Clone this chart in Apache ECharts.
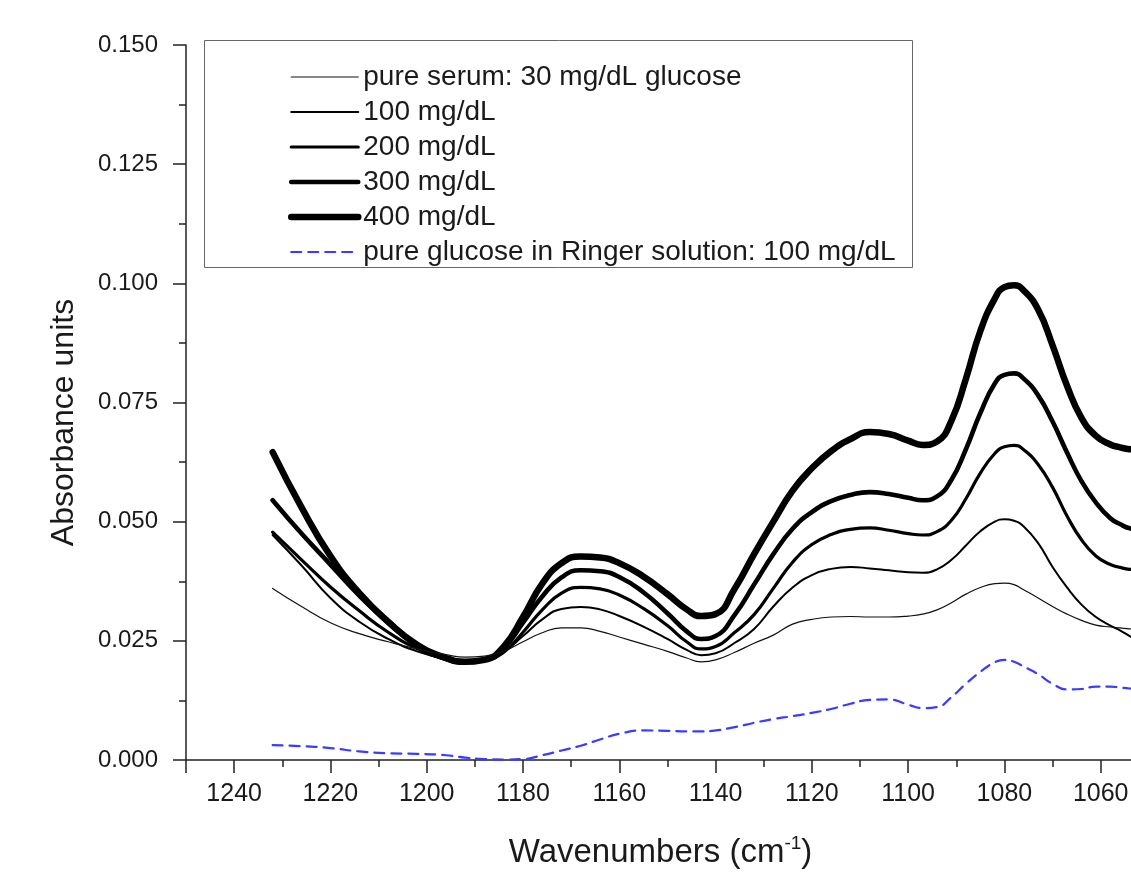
<!DOCTYPE html>
<html>
<head>
<meta charset="utf-8">
<script src="https://cdn.jsdelivr.net/npm/echarts@6/dist/echarts.min.js"></script>
<style>
html,body{margin:0;padding:0;background:#fff;}
#chart{width:1131px;height:873px;}
</style>
</head>
<body>
<div id="chart"></div>
<script>
// Wavenumbers (cm^-1)
const wn = [1232,1226,1220,1214,1208,1202,1196,1192,1188,1184,1180,1176,1172,1168,1164,1160,1155,1150,1146,1143,1140,1136,1132,1128,1124,1120,1116,1112,1108,1104,1100,1097,1094,1091,1088,1085,1082,1080,1078,1076,1073,1070,1067,1064,1061,1058,1056,1054,1050];

const serum30 = [0.0360,0.0322,0.0288,0.0265,0.0248,0.0233,0.0221,0.0216,0.0218,0.0228,0.0248,0.0267,0.0277,0.0277,0.0270,0.0258,0.0243,0.0228,0.0214,0.0206,0.0210,0.0226,0.0245,0.0262,0.0285,0.0295,0.0300,0.0301,0.0300,0.0300,0.0302,0.0306,0.0315,0.0330,0.0348,0.0362,0.0370,0.0371,0.0368,0.0357,0.0340,0.0322,0.0306,0.0293,0.0283,0.0279,0.0277,0.0275,0.0274];

const glu100 = [0.0472,0.0408,0.0340,0.0290,0.0254,0.0228,0.0212,0.0206,0.0211,0.0228,0.0260,0.0295,0.0317,0.0321,0.0316,0.0302,0.0280,0.0254,0.0231,0.0220,0.0224,0.0246,0.0275,0.0322,0.0362,0.0388,0.0401,0.0405,0.0402,0.0398,0.0394,0.0393,0.0400,0.0420,0.0450,0.0480,0.0500,0.0505,0.0502,0.0490,0.0455,0.0405,0.0362,0.0326,0.0300,0.0282,0.0272,0.0260,0.0236];

const glu200 = [0.0478,0.0420,0.0363,0.0313,0.0268,0.0234,0.0211,0.0205,0.0209,0.0226,0.0268,0.0315,0.0350,0.0362,0.0359,0.0346,0.0318,0.0282,0.0248,0.0233,0.0238,0.0268,0.0305,0.0360,0.0415,0.0452,0.0473,0.0484,0.0487,0.0482,0.0475,0.0472,0.0479,0.0503,0.0548,0.0602,0.0643,0.0657,0.0660,0.0651,0.0620,0.0572,0.0512,0.0462,0.0428,0.0410,0.0404,0.0400,0.0398];

const glu300 = [0.0545,0.0475,0.0410,0.0345,0.0288,0.0240,0.0212,0.0205,0.0210,0.0234,0.0288,0.0343,0.0383,0.0398,0.0396,0.0384,0.0352,0.0308,0.0270,0.0254,0.0260,0.0305,0.0368,0.0432,0.0485,0.0520,0.0543,0.0556,0.0562,0.0558,0.0550,0.0545,0.0553,0.0588,0.0652,0.0728,0.0790,0.0808,0.0811,0.0800,0.0765,0.0710,0.0645,0.0585,0.0540,0.0507,0.0495,0.0486,0.0480];

const glu400 = [0.0646,0.0530,0.0428,0.0350,0.0290,0.0242,0.0214,0.0206,0.0210,0.0238,0.0300,0.0370,0.0413,0.0427,0.0425,0.0413,0.0385,0.0348,0.0316,0.0302,0.0306,0.0360,0.0432,0.0500,0.0565,0.0612,0.0648,0.0673,0.0688,0.0684,0.0670,0.0661,0.0668,0.0712,0.0800,0.0900,0.0968,0.0992,0.0996,0.0985,0.0945,0.0870,0.0785,0.0718,0.0680,0.0662,0.0656,0.0652,0.0650];

const ringer100 = [0.0031,0.0029,0.0025,0.0018,0.0014,0.0013,0.0010,0.0005,0.0002,0.0001,0.0002,0.0010,0.0020,0.0030,0.0043,0.0055,0.0062,0.0061,0.0060,0.0060,0.0062,0.0069,0.0078,0.0086,0.0092,0.0099,0.0107,0.0118,0.0126,0.0127,0.0116,0.0109,0.0111,0.0132,0.0160,0.0185,0.0205,0.0210,0.0206,0.0196,0.0180,0.0160,0.0148,0.0149,0.0154,0.0154,0.0152,0.0150,0.0147];

const seriesNames = ['pure serum: 30 mg/dL glucose','100 mg/dL','200 mg/dL','300 mg/dL','400 mg/dL','pure glucose in Ringer solution: 100 mg/dL'];
const seriesValues = [serum30, glu100, glu200, glu300, glu400, ringer100];
const lineWidths = [1.2, 2, 3.2, 4.6, 6.5, 2.2];
const lineColors = ['#111','#000','#000','#000','#000','#3b3bff'];
const lineTypes = ['solid','solid','solid','solid','solid',[10,7]];

const FONT = "'Liberation Sans', Arial, sans-serif";

const chart = echarts.init(document.getElementById('chart'), null, {renderer:'canvas'});

const series = seriesNames.map((n, i) => ({
  name: n,
  type: 'line',
  data: wn.map((w, j) => [w, seriesValues[i][j]]),
  smooth: true,
  showSymbol: false,
  symbol: 'none',
  silent: true,
  z: 10 - i,
  lineStyle: { width: lineWidths[i], color: lineColors[i], type: lineTypes[i], cap: 'round', join: 'round' },
  itemStyle: { color: lineColors[i] }
}));

const option = {
  animation: false,
  backgroundColor: '#fff',
  textStyle: { fontFamily: FONT },
  grid: { left: 186, top: 45, width: 1011, height: 715, containLabel: false, outerBoundsMode: 'none' },
  xAxis: {
    type: 'value',
    inverse: true,
    min: 1040, max: 1250, interval: 20,
    axisLine: { show: true, onZero: false, lineStyle: { color: '#222', width: 1.5 } },
    axisTick: { show: true, inside: false, length: 13, lineStyle: { color: '#222', width: 1.5 } },
    minorTick: { show: true, splitNumber: 2, length: 7, lineStyle: { color: '#222', width: 1.5 } },
    splitLine: { show: false },
    axisLabel: { color: '#1a1a1a', fontSize: 25, fontFamily: FONT, margin: 22,
      formatter: v => (v === 1250 ? '' : String(v)) },
    name: '{a|Wavenumbers (cm}{s|-1}{a|)}',
    nameLocation: 'middle',
    nameGap: 74,
    nameTextStyle: {
      color: '#1a1a1a', fontFamily: FONT,
      padding: [0, 62, 0, 0],
      rich: {
        a: { fontSize: 33, fontFamily: FONT, color: '#1a1a1a', lineHeight: 38 },
        s: { fontSize: 19, fontFamily: FONT, color: '#1a1a1a', verticalAlign: 'top', lineHeight: 22 }
      }
    }
  },
  yAxis: {
    type: 'value',
    min: 0, max: 0.15, interval: 0.025,
    axisLine: { show: true, lineStyle: { color: '#222', width: 1.5 } },
    axisTick: { show: true, inside: false, length: 13, lineStyle: { color: '#222', width: 1.5 } },
    minorTick: { show: true, splitNumber: 2, length: 7, lineStyle: { color: '#222', width: 1.5 } },
    splitLine: { show: false },
    axisLabel: { color: '#1a1a1a', fontSize: 24, fontFamily: FONT, margin: 28,
      formatter: v => v.toFixed(3) },
    name: 'Absorbance units',
    nameLocation: 'middle',
    nameGap: 106,
    nameTextStyle: { color: '#1a1a1a', fontSize: 32, fontFamily: FONT, padding: [0, 40, 0, 0] }
  },
  legend: {
    show: true,
    orient: 'vertical',
    left: 288,
    top: 62,
    padding: 0,
    itemWidth: 67,
    itemHeight: 14,
    itemGap: 5,
    selectedMode: false,
    textStyle: { fontSize: 28, fontFamily: FONT, color: '#1a1a1a', lineHeight: 30 },
    data: seriesNames.map((n, i) => ({
      name: n,
      lineStyle: { width: lineWidths[i], color: lineColors[i], type: lineTypes[i] },
      itemStyle: { opacity: 0, color: 'rgba(0,0,0,0)', borderWidth: 0 }
    }))
  },
  graphic: [{
    type: 'rect',
    shape: { x: 204.5, y: 40.5, width: 708, height: 227 },
    style: { fill: 'none', stroke: '#666', lineWidth: 1 },
    z: 100
  }],
  series: series
};

chart.setOption(option);
</script>
</body>
</html>
